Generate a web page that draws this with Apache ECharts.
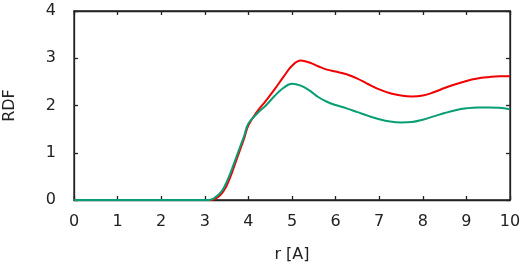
<!DOCTYPE html>
<html>
<head>
<meta charset="utf-8">
<script src="https://cdn.jsdelivr.net/npm/echarts@6/dist/echarts.min.js"></script>
<style>
  html, body { margin: 0; padding: 0; background: #fff; }
  #chart { width: 526px; height: 266px; }
</style>
</head>
<body>
<div id="chart"></div>
<script>
const rValues = [0, 3.0, 3.1, 3.2, 3.3, 3.4, 3.5, 3.6, 3.7, 3.8, 3.9, 4.0, 4.2, 4.4, 4.6, 4.8, 5.0, 5.2, 5.4, 5.6, 5.8, 6.0, 6.25, 6.5, 6.75, 7.0, 7.25, 7.5, 7.75, 8.0, 8.25, 8.5, 8.75, 9.0, 9.25, 9.5, 9.75, 10]
const redRdf = [0, 0, 0, 0.01, 0.06, 0.15, 0.3, 0.52, 0.78, 1.04, 1.3, 1.58, 1.87, 2.1, 2.34, 2.6, 2.84, 2.95, 2.91, 2.83, 2.76, 2.72, 2.66, 2.57, 2.45, 2.34, 2.26, 2.21, 2.19, 2.21, 2.28, 2.37, 2.45, 2.52, 2.57, 2.6, 2.62, 2.62]
const greenRdf = [0, 0, 0, 0.03, 0.1, 0.2, 0.38, 0.6, 0.85, 1.1, 1.35, 1.62, 1.83, 2.0, 2.2, 2.37, 2.46, 2.42, 2.32, 2.18, 2.08, 2.01, 1.94, 1.86, 1.78, 1.71, 1.66, 1.64, 1.65, 1.7, 1.77, 1.84, 1.9, 1.94, 1.96, 1.96, 1.95, 1.92]

const chart = echarts.init(document.getElementById('chart'))

const axisLine = { show: true, onZero: false, lineStyle: { color: '#222', width: 1.3 } }
const axisTick = { inside: true, length: 4, lineStyle: { color: '#222', width: 1.3 } }
const labelStyle = { color: '#222', fontSize: 16, fontFamily: 'DejaVu Sans' }
const nameStyle = { color: '#222', fontSize: 16, fontFamily: 'DejaVu Sans' }

chart.setOption({
  animation: false,
  grid: {
    left: 74, right: 16, top: 11, bottom: 66,
    outerBoundsMode: 'none',
    show: true, borderColor: '#222', borderWidth: 1.3
  },
  xAxis: [{
    type: 'value', min: 0, max: 10, interval: 1,
    name: 'r [A]', nameLocation: 'middle', nameGap: 47, nameTextStyle: nameStyle,
    axisLine, axisTick,
    axisLabel: Object.assign({ margin: 14 }, labelStyle),
    splitLine: { show: false }
  }, {
    type: 'value', min: 0, max: 10, interval: 1, position: 'top',
    axisLine, axisTick, axisLabel: { show: false }, splitLine: { show: false }
  }],
  yAxis: [{
    type: 'value', min: 0, max: 4, interval: 1,
    name: 'RDF', nameLocation: 'middle', nameGap: 56, nameRotate: 90, nameTextStyle: nameStyle,
    axisLine, axisTick,
    axisLabel: Object.assign({ margin: 18 }, labelStyle),
    splitLine: { show: false }
  }, {
    type: 'value', min: 0, max: 4, interval: 1, position: 'right',
    axisLine, axisTick, axisLabel: { show: false }, splitLine: { show: false }
  }],
  series: [{
    type: 'line', name: 'red',
    data: rValues.map((r, i) => [r, redRdf[i]]),
    smooth: 0.4, showSymbol: false,
    lineStyle: { color: '#f00000', width: 2 }
  }, {
    type: 'line', name: 'green',
    data: rValues.map((r, i) => [r, greenRdf[i]]),
    smooth: 0.4, showSymbol: false,
    lineStyle: { color: '#089e74', width: 2 }
  }]
})
</script>
</body>
</html>
